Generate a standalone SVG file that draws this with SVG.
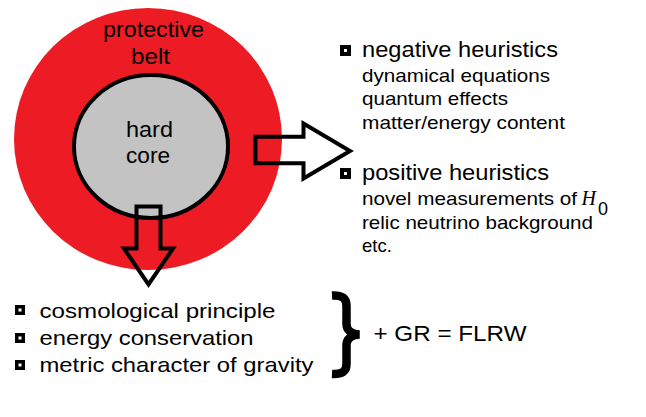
<svg xmlns="http://www.w3.org/2000/svg" width="646" height="417" viewBox="0 0 646 417">
  <style>
    text { font-family: "Liberation Sans", Arial, sans-serif; fill: #000; }
    .big { font-size: 22px; }
    .mid { font-size: 21px; }
    .small { font-size: 18.5px; }
    .arrow { fill: none; stroke: #000; stroke-width: 4; stroke-linejoin: miter; }
    .bullet { fill: #000; }
    .dot { fill: #fff; }
  </style>
  <rect width="646" height="417" fill="#fff"/>
  <g id="protective-belt">
    <ellipse cx="148" cy="139" rx="134" ry="131" fill="#ED1C24"/>
    <text class="big" x="103" y="37" textLength="101" lengthAdjust="spacingAndGlyphs">protective</text>
    <text class="big" x="131" y="64" textLength="39" lengthAdjust="spacingAndGlyphs">belt</text>
  </g>
  <g id="hard-core">
    <ellipse cx="151" cy="146.5" rx="77" ry="71.5" fill="#C3C3C3" stroke="#000" stroke-width="4"/>
    <text class="big" x="126" y="137" textLength="47" lengthAdjust="spacingAndGlyphs">hard</text>
    <text class="big" x="126" y="163" textLength="44" lengthAdjust="spacingAndGlyphs">core</text>
  </g>
  <g id="connectors">
    <polygon class="arrow" points="255.5,136.7 303.5,136.7 303.5,123.5 350,151 303.5,178.5 303.5,163.3 255.5,163.3"/>
    <polygon class="arrow" points="136.5,206.5 160.5,206.5 160.5,248.5 173,248.5 148.5,284.5 124,248.5 136.5,248.5"/>
  </g>
  <g id="negative-heuristics">
    <rect class="bullet" x="340" y="45" width="11" height="11"/>
    <rect class="dot" x="344" y="49" width="3" height="3"/>
    <text class="big" x="362" y="56.5" textLength="196" lengthAdjust="spacingAndGlyphs">negative heuristics</text>
    <text class="small" x="362" y="81.5" textLength="188" lengthAdjust="spacingAndGlyphs">dynamical equations</text>
    <text class="small" x="362" y="105" textLength="146" lengthAdjust="spacingAndGlyphs">quantum effects</text>
    <text class="small" x="362" y="128.5" textLength="203" lengthAdjust="spacingAndGlyphs">matter/energy content</text>
  </g>
  <g id="positive-heuristics">
    <rect class="bullet" x="340" y="168" width="11" height="11"/>
    <rect class="dot" x="344" y="172" width="3" height="3"/>
    <text class="big" x="362" y="180" textLength="187" lengthAdjust="spacingAndGlyphs">positive heuristics</text>
    <text class="small" x="362" y="204.5" textLength="215" lengthAdjust="spacingAndGlyphs">novel measurements of</text>
    <text x="581.5" y="204.5" style="font-family: 'Liberation Serif', 'Times New Roman', serif; font-style: italic; font-size: 20px;">H</text>
    <text class="small" x="598" y="215" style="font-size: 18px;">0</text>
    <text class="small" x="362" y="228.5" textLength="231" lengthAdjust="spacingAndGlyphs">relic neutrino background</text>
    <text class="small" x="362" y="251.5">etc.</text>
  </g>
  <g id="hard-core-list">
    <rect class="bullet" x="15" y="305" width="10" height="10"/>
    <rect class="dot" x="18.5" y="308.5" width="3" height="3"/>
    <rect class="bullet" x="15" y="333" width="10" height="10"/>
    <rect class="dot" x="18.5" y="336.5" width="3" height="3"/>
    <rect class="bullet" x="15" y="360" width="10" height="10"/>
    <rect class="dot" x="18.5" y="363.5" width="3" height="3"/>
    <text class="mid" x="39.5" y="317.5" textLength="236" lengthAdjust="spacingAndGlyphs">cosmological principle</text>
    <text class="mid" x="39.5" y="344.5" textLength="214" lengthAdjust="spacingAndGlyphs">energy conservation</text>
    <text class="mid" x="39.5" y="371.5" textLength="274" lengthAdjust="spacingAndGlyphs">metric character of gravity</text>
  </g>
  <g id="result">
    <path d="M 332,295.5 C 342,295 346.5,298 346.5,306 L 346.5,324 C 346.5,330 351,334 359.5,334.5 C 351,335 346.5,339 346.5,345 L 346.5,364 C 346.5,371.5 342,374.5 332,374" fill="none" stroke="#000" stroke-width="8.5"/>
    <text class="big" x="373.5" y="341" textLength="153" lengthAdjust="spacingAndGlyphs">+ GR = FLRW</text>
  </g>
</svg>
